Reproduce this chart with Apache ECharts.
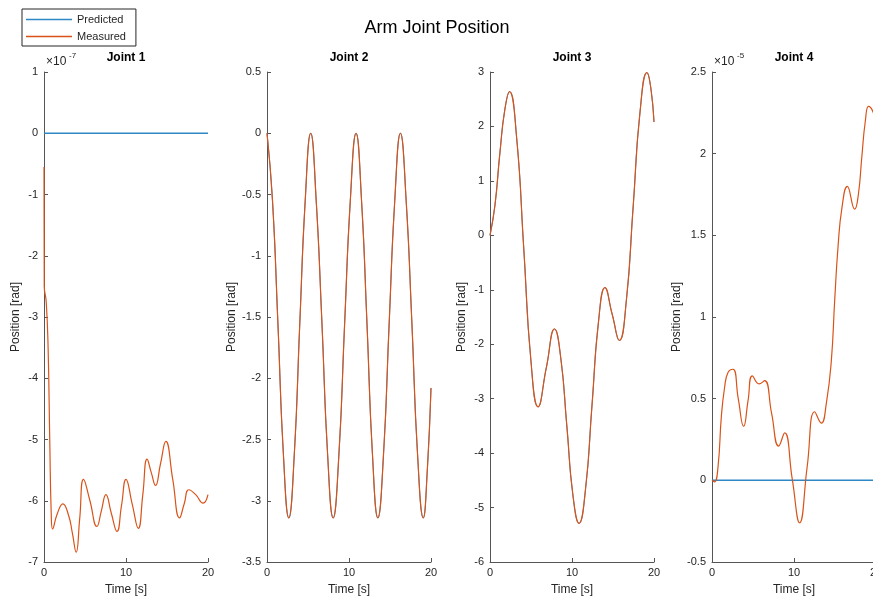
<!DOCTYPE html>
<html>
<head>
<meta charset="utf-8">
<script src="https://cdn.jsdelivr.net/npm/echarts@6/dist/echarts.min.js"></script>
<style>
html,body{margin:0;padding:0;background:#fff;}
#chart{width:873px;height:604px;}
</style>
</head>
<body>
<div id="chart"></div>
<script>
// ---- Data ----
const timeTicks = [0, 10, 20];

// Joint 1 (values in units of 1e-7 rad)
const joint1Time = [0, 0.03, 0.27, 0.5, 0.7, 0.88, 1.05, 1.6, 2.3, 3.0, 3.45, 3.92, 4.35, 4.82, 5.6, 6.45, 7.0, 7.55, 8.2, 8.9, 9.45, 10.0, 10.75, 11.5, 12.05, 12.57, 13.1, 13.6, 14.2, 14.86, 15.7, 16.53, 17.1, 17.67, 18.5, 19.4, 20];
const joint1Measured = [-0.55, -2.5, -2.75, -3.5, -5.0, -6.2, -6.46, -6.22, -6.05, -6.24, -6.52, -6.84, -6.3, -5.65, -6.0, -6.42, -6.16, -5.90, -6.2, -6.50, -6.08, -5.65, -6.05, -6.45, -5.9, -5.32, -5.55, -5.75, -5.4, -5.03, -5.65, -6.28, -6.05, -5.82, -5.9, -6.04, -5.9];
const joint1PredTime = [0, 20];
const joint1Predicted = [0, 0];

// Joint 2 (rad)
const joint2Time = [0, 0.67, 1.33, 2.0, 2.66, 3.33, 4.0, 4.66, 5.33, 6.0, 6.7, 7.39, 8.07, 8.77, 9.47, 10.16, 10.86, 11.53, 12.19, 12.86, 13.52, 14.21, 14.9, 15.58, 16.27, 16.97, 17.67, 18.36, 19.06, 19.55, 20];
const joint2Measured = [0, -0.55, -1.55, -2.62, -3.14, -2.62, -1.55, -0.55, 0, -0.55, -1.55, -2.62, -3.14, -2.62, -1.55, -0.55, 0, -0.55, -1.55, -2.62, -3.14, -2.62, -1.55, -0.55, 0, -0.55, -1.55, -2.62, -3.14, -2.75, -2.08];
const joint2Predicted = joint2Measured;

// Joint 3 (rad)
const joint3Time = [0, 0.6, 1.2, 1.8, 2.38, 3.25, 4.12, 4.99, 5.86, 6.87, 7.87, 8.62, 9.37, 10.11, 10.86, 11.65, 12.44, 13.23, 14.02, 14.9, 15.78, 16.62, 17.46, 18.3, 19.14, 19.6, 20];
const joint3Measured = [0, 0.55, 1.5, 2.3, 2.64, 1.79, -0.25, -2.3, -3.15, -2.43, -1.72, -2.24, -3.5, -4.77, -5.29, -4.66, -3.12, -1.59, -0.96, -1.45, -1.93, -1.21, 0.53, 2.27, 2.99, 2.72, 2.08];
const joint3Predicted = joint3Measured;

// Joint 4 (values in units of 1e-5 rad)
const joint4Time = [0, 0.3, 0.73, 1.14, 1.54, 1.95, 2.56, 3.2, 3.86, 4.4, 4.92, 5.73, 6.42, 7.27, 8.13, 8.86, 9.78, 10.69, 11.6, 12.52, 13.33, 13.94, 14.55, 14.96, 15.37, 15.85, 16.5, 17.4, 17.85, 18.27, 18.7, 19.1, 19.6, 20];
const joint4Measured = [0, -0.01, 0.08, 0.39, 0.57, 0.66, 0.68, 0.5, 0.33, 0.49, 0.64, 0.59, 0.61, 0.41, 0.21, 0.29, 0.01, -0.26, 0.08, 0.42, 0.35, 0.47, 0.73, 1.10, 1.43, 1.67, 1.80, 1.66, 1.75, 1.98, 2.2, 2.29, 2.26, 2.18];
const joint4PredTime = [0, 20];
const joint4Predicted = [0, 0];

const yRanges = [
  {min: -7, max: 1, interval: 1},
  {min: -3.5, max: 0.5, interval: 0.5},
  {min: -6, max: 3, interval: 1},
  {min: -0.5, max: 2.5, interval: 0.5}
];
const jointTitles = ['Joint 1', 'Joint 2', 'Joint 3', 'Joint 4'];

// ---- Layout ----
const gridLefts = [44, 267, 490, 712];
const gridWidth = 164;
const gridTop = 72;
const gridHeight = 490;
const yNameGaps = [22, 29, 22, 27];

const FONT = '"Liberation Sans", Arial, Helvetica, sans-serif';
const BLUE = '#2f88c6';
const ORANGE = '#D95319';
const AXIS = '#555555';
const TEXT = '#262626';

function pairs(t, v) { return t.map((x, i) => [x, v[i]]); }

const grids = [], xAxes = [], yAxes = [], series = [];
const predSets = [
  pairs(joint1PredTime, joint1Predicted),
  pairs(joint2Time, joint2Predicted),
  pairs(joint3Time, joint3Predicted),
  pairs(joint4PredTime, joint4Predicted)
];
const measSets = [
  pairs(joint1Time, joint1Measured),
  pairs(joint2Time, joint2Measured),
  pairs(joint3Time, joint3Measured),
  pairs(joint4Time, joint4Measured)
];

for (let i = 0; i < 4; i++) {
  grids.push({left: gridLefts[i], top: gridTop, width: gridWidth, height: gridHeight, containLabel: false, outerBoundsMode: 'none'});
  xAxes.push({
    type: 'value', gridIndex: i, min: timeTicks[0], max: timeTicks[timeTicks.length - 1], interval: 10,
    name: 'Time [s]', nameLocation: 'middle', nameGap: 22,
    nameTextStyle: {fontFamily: FONT, fontSize: 12, color: TEXT},
    axisLine: {show: true, onZero: false, lineStyle: {color: AXIS, width: 1}},
    axisTick: {show: true, inside: true, length: 4, lineStyle: {color: AXIS}},
    axisLabel: {fontFamily: FONT, fontSize: 11, color: TEXT, margin: 5, hideOverlap: false},
    splitLine: {show: false}
  });
  yAxes.push({
    type: 'value', gridIndex: i, min: yRanges[i].min, max: yRanges[i].max, interval: yRanges[i].interval,
    name: 'Position [rad]', nameLocation: 'middle', nameGap: yNameGaps[i], nameRotate: 90,
    nameTextStyle: {fontFamily: FONT, fontSize: 12, color: TEXT},
    axisLine: {show: true, onZero: false, lineStyle: {color: AXIS, width: 1}},
    axisTick: {show: true, inside: true, length: 4, lineStyle: {color: AXIS}},
    axisLabel: {fontFamily: FONT, fontSize: 11, color: TEXT, margin: 6},
    splitLine: {show: false}
  });
  series.push({
    name: 'Predicted', type: 'line', xAxisIndex: i, yAxisIndex: i,
    data: predSets[i], symbol: 'none', showSymbol: false, smooth: 0.5,
    lineStyle: {color: BLUE, width: (i === 1 || i === 2) ? 1 : 1.5}, itemStyle: {color: BLUE}, animation: false, z: 2
  });
  series.push({
    name: 'Measured', type: 'line', xAxisIndex: i, yAxisIndex: i,
    data: measSets[i], symbol: 'none', showSymbol: false, smooth: 0.5,
    lineStyle: {color: ORANGE, width: 1.2}, itemStyle: {color: ORANGE}, animation: false, z: 3
  });
}

const graphics = [
  {type: 'text', x: 437, y: 28, style: {text: 'Arm Joint Position', font: '18px ' + FONT, fill: '#000', align: 'center', verticalAlign: 'middle', textAlign: 'center', textVerticalAlign: 'middle'}}
];
jointTitles.forEach((t, i) => {
  graphics.push({type: 'text', x: gridLefts[i] + gridWidth / 2, y: 58, style: {text: t, font: 'bold 12px ' + FONT, fill: '#000', align: 'center', verticalAlign: 'middle', textAlign: 'center', textVerticalAlign: 'middle'}});
});
// exponent multipliers
[[0, '-7'], [3, '-5']].forEach(([i, e]) => {
  const x0 = gridLefts[i] + 2;
  graphics.push({type: 'text', x: x0, y: 62, style: {text: '×10', font: '12px ' + FONT, fill: TEXT, align: 'left', verticalAlign: 'middle', textAlign: 'left', textVerticalAlign: 'middle'}});
  graphics.push({type: 'text', x: x0 + 23, y: 56, style: {text: e, font: '8px ' + FONT, fill: TEXT, align: 'left', verticalAlign: 'middle', textAlign: 'left', textVerticalAlign: 'middle'}});
});

const chart = echarts.init(document.getElementById('chart'), null, {renderer: 'canvas'});
chart.setOption({
  backgroundColor: '#fff',
  animation: false,
  legend: {
    data: ['Predicted', 'Measured'],
    orient: 'vertical', left: 22, top: 9,
    icon: 'rect',
    padding: [4, 10, 3, 4], itemGap: 4, itemWidth: 46, itemHeight: 1.5,
    backgroundColor: '#fff', borderColor: TEXT, borderWidth: 1, borderRadius: 0,
    textStyle: {fontFamily: FONT, fontSize: 11, color: TEXT, lineHeight: 13}
  },
  grid: grids,
  xAxis: xAxes,
  yAxis: yAxes,
  series: series,
  graphic: graphics
});
</script>
</body>
</html>
